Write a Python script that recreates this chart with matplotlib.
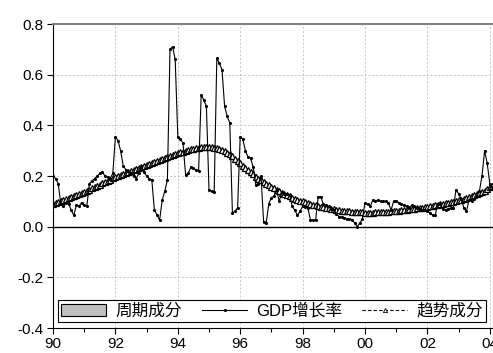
import numpy as np
import matplotlib
matplotlib.use("Agg")
import matplotlib.pyplot as plt
from matplotlib.patches import Patch
from matplotlib.lines import Line2D

plt.rcParams['font.family'] = ['Liberation Sans', 'Noto Sans CJK SC', 'DejaVu Sans']

# monthly data, Jan 1990 .. Feb 2004
gdp = [
    0.20, 0.19, 0.17, 0.09, 0.08, 0.095, 0.09, 0.065, 0.045, 0.085, 0.08, 0.095,   # 1990
    0.085, 0.08, 0.17, 0.18, 0.19, 0.20, 0.21, 0.215, 0.20, 0.195, 0.19, 0.21,     # 1991
    0.355, 0.34, 0.30, 0.24, 0.225, 0.22, 0.21, 0.20, 0.19, 0.21, 0.235, 0.215,    # 1992
    0.20, 0.19, 0.185, 0.065, 0.047, 0.025, 0.105, 0.14, 0.185, 0.70, 0.71, 0.66,  # 1993
    0.355, 0.345, 0.33, 0.205, 0.21, 0.235, 0.23, 0.225, 0.22, 0.52, 0.50, 0.475,  # 1994
    0.145, 0.14, 0.135, 0.665, 0.645, 0.62, 0.475, 0.435, 0.41, 0.055, 0.06, 0.075,  # 1995
    0.355, 0.345, 0.30, 0.275, 0.27, 0.235, 0.165, 0.17, 0.20, 0.02, 0.015, 0.09,  # 1996
    0.115, 0.12, 0.145, 0.10, 0.135, 0.13, 0.13, 0.125, 0.08, 0.065, 0.045, 0.06,  # 1997
    0.08, 0.077, 0.075, 0.028, 0.025, 0.025, 0.118, 0.118, 0.088, 0.085, 0.08, 0.07,  # 1998
    0.065, 0.05, 0.04, 0.038, 0.035, 0.032, 0.03, 0.028, 0.015, 0.0, 0.015, 0.03,  # 1999
    0.095, 0.088, 0.08, 0.105, 0.10, 0.105, 0.10, 0.10, 0.10, 0.095, 0.065, 0.10,  # 2000
    0.10, 0.095, 0.09, 0.085, 0.08, 0.075, 0.085, 0.08, 0.075, 0.07, 0.065, 0.067,  # 2001
    0.06, 0.055, 0.045, 0.045, 0.09, 0.088, 0.07, 0.067, 0.07, 0.072, 0.075, 0.145,  # 2002
    0.13, 0.11, 0.075, 0.06, 0.105, 0.10, 0.11, 0.12, 0.14, 0.20, 0.30, 0.25,      # 2003
    0.17, 0.155,                                                                   # 2004
]

trend = [
    0.090, 0.093, 0.097, 0.100, 0.104, 0.108, 0.112, 0.116, 0.120, 0.124, 0.128, 0.132,
    0.136, 0.141, 0.146, 0.151, 0.156, 0.161, 0.166, 0.171, 0.176, 0.181, 0.186, 0.191,
    0.195, 0.199, 0.204, 0.208, 0.212, 0.216, 0.220, 0.225, 0.229, 0.233, 0.237, 0.241,
    0.245, 0.249, 0.253, 0.257, 0.261, 0.265, 0.269, 0.273, 0.276, 0.280, 0.283, 0.287,
    0.290, 0.293, 0.296, 0.299, 0.302, 0.305, 0.307, 0.309, 0.311, 0.313, 0.314, 0.315,
    0.315, 0.314, 0.312, 0.310, 0.307, 0.303, 0.298, 0.292, 0.285, 0.277, 0.268, 0.259,
    0.250, 0.241, 0.232, 0.223, 0.214, 0.206, 0.198, 0.190, 0.183, 0.176, 0.169, 0.163,
    0.157, 0.151, 0.145, 0.140, 0.134, 0.129, 0.124, 0.120, 0.115, 0.111, 0.107, 0.103,
    0.100, 0.096, 0.093, 0.090, 0.087, 0.084, 0.081, 0.079, 0.076, 0.074, 0.072, 0.070,
    0.068, 0.066, 0.065, 0.063, 0.062, 0.061, 0.060, 0.059, 0.058, 0.057, 0.056, 0.056,
    0.055, 0.055, 0.055, 0.055, 0.056, 0.056, 0.057, 0.057, 0.058, 0.059, 0.060, 0.061,
    0.062, 0.063, 0.064, 0.065, 0.066, 0.068, 0.069, 0.070, 0.072, 0.073, 0.075, 0.077,
    0.079, 0.080, 0.082, 0.084, 0.086, 0.088, 0.090, 0.092, 0.094, 0.096, 0.098, 0.101,
    0.104, 0.107, 0.110, 0.113, 0.116, 0.120, 0.124, 0.128, 0.132, 0.137, 0.142, 0.148,
    0.155, 0.162,
]

t = 1990 + np.arange(len(gdp)) / 12.0
xticks = [1990, 1992, 1994, 1996, 1998, 2000, 2002, 2004]
xticklabels = ['90', '92', '94', '96', '98', '00', '02', '04']
yticks = [-0.4, -0.2, 0.0, 0.2, 0.4, 0.6, 0.8]

fig = plt.figure(figsize=(4.93, 3.53), dpi=100)
ax = fig.add_axes([53/493, 25/353, 440/493, 304/353])

ax.axhline(0, color='black', lw=1.0, zorder=1)
ax.plot(t, trend, color='black', lw=0.8, ls=(0, (3, 2)), marker='^', ms=4,
        mfc='white', mec='black', mew=0.9, zorder=2)
ax.plot(t, gdp, color='black', lw=0.8, marker='.', ms=2.5, zorder=3)

ax.set_xlim(1990, 1990 + 440/31.2)
ax.set_ylim(-0.4, 0.8)
ax.set_xticks(xticks)
ax.set_xticklabels(xticklabels)
ax.set_xticks(np.arange(1991, 2005, 2), minor=True)
ax.set_yticks(yticks)
ax.set_yticklabels(['%.1f' % v for v in yticks])
ax.tick_params(axis='both', labelsize=11, direction='out', length=4, width=0.8,
               colors='black', pad=2.5)
ax.tick_params(axis='x', which='minor', length=3, width=0.8)
ax.grid(True, color='#c8c8c8', ls=(0, (2, 2)), lw=0.7)
ax.set_axisbelow(True)

ax.spines['top'].set_color('#808080')
ax.spines['top'].set_linewidth(1.5)
ax.spines['right'].set_visible(False)
ax.spines['left'].set_linewidth(0.8)
ax.spines['bottom'].set_linewidth(0.8)

handles = [
    Patch(facecolor='#c0c0c0', edgecolor='black', lw=0.8),
    Line2D([], [], color='black', lw=0.8, marker='.', ms=2.5, markevery=[1]),
    Line2D([], [], color='black', lw=0.8, ls=(0, (3, 2)), marker='^', ms=3,
           mfc='white', mec='black', mew=0.6, markevery=[1]),
]
leg = ax.legend(handles, ['周期成分', 'GDP增长率', '趋势成分'], ncol=3,
                loc='lower left', bbox_to_anchor=(5/440, 6/304), fontsize=12,
                frameon=True, fancybox=False, edgecolor='black', framealpha=1,
                handlelength=2.7, handleheight=0.8, columnspacing=1.2,
                handletextpad=0.55, borderpad=0.2, borderaxespad=0)
leg.get_frame().set_linewidth(0.8)

fig.savefig('out.png', dpi=100)
